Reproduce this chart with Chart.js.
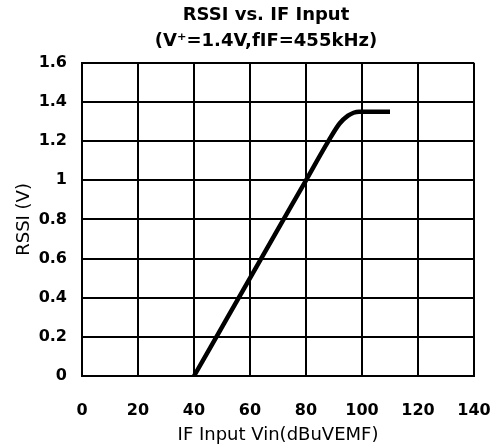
<!DOCTYPE html>
<html>
<head>
<meta charset="utf-8">
<script src="https://cdn.jsdelivr.net/npm/chart.js@4"></script>
<style>
  html, body { margin: 0; padding: 0; background: #fff; }
  canvas { display: block; }
</style>
</head>
<body>
<canvas id="rssiChart" width="499" height="448"></canvas>
<script>
// data
const vinValues = [40, 50, 60, 70, 80, 88, 92, 95, 97, 99, 102, 106, 110];
const rssiValues = [0, 0.25, 0.5, 0.75, 1.0, 1.2, 1.29, 1.33, 1.345, 1.35, 1.35, 1.35, 1.35];

const xTickValues = [0, 20, 40, 60, 80, 100, 120, 140];
const yTickValues = [0, 0.2, 0.4, 0.6, 0.8, 1, 1.2, 1.4, 1.6];
const yTickLabels = ['0', '0.2', '0.4', '0.6', '0.8', '1', '1.2', '1.4', '1.6'];

const fontFamily = '"DejaVu Sans", Verdana, sans-serif';
const tickFont = { family: fontFamily, size: 16, weight: 'bold' };
const labelFont = { family: fontFamily, size: 18 };

const ctx = document.getElementById('rssiChart').getContext('2d');
const rssiChart = new Chart(ctx, {
  type: 'line',
  data: {
    datasets: [{
      data: vinValues.map((v, i) => ({ x: v, y: rssiValues[i] })),
      borderColor: '#000',
      borderWidth: 4.5,
      pointRadius: 0,
      cubicInterpolationMode: 'monotone',
      fill: false
    }]
  },
  options: {
    responsive: false,
    animation: false,
    // left padding shifts the (full width) title to the right like the original
    layout: { padding: { left: 33, right: 0, top: 0, bottom: 0 } },
    plugins: {
      legend: { display: false },
      tooltip: { enabled: false },
      title: {
        display: true,
        text: ['RSSI vs. IF Input', '(V\u207A=1.4V,fIF=455kHz)'],
        color: '#000',
        font: { family: fontFamily, size: 18, weight: 'bold', lineHeight: 1.44 },
        padding: { top: 2, bottom: 9 }
      }
    },
    scales: {
      x: {
        type: 'linear',
        min: 0,
        max: 140,
        afterBuildTicks: scale => { scale.ticks = xTickValues.map(v => ({ value: v })); },
        afterFit: scale => {
          scale.height = 72;
          scale.paddingLeft = 0;
          scale.paddingRight = 25;
        },
        ticks: { color: '#000', font: tickFont, padding: 25, maxRotation: 0 },
        grid: { color: '#000', lineWidth: 2, drawTicks: false },
        border: { color: '#000', width: 2 },
        title: {
          display: true,
          text: 'IF Input Vin(dBuVEMF)',
          color: '#000',
          font: labelFont,
          padding: { top: 0, bottom: 2 }
        }
      },
      y: {
        min: 0,
        max: 1.6,
        afterBuildTicks: scale => { scale.ticks = yTickValues.map(v => ({ value: v })); },
        afterFit: scale => {
          scale.width = 49;
          scale.paddingTop = 0;
          scale.paddingBottom = 0;
        },
        ticks: {
          color: '#000',
          font: tickFont,
          padding: 15,
          callback: (value, index) => yTickLabels[index]
        },
        grid: { color: '#000', lineWidth: 2, drawTicks: false },
        border: { color: '#000', width: 2 },
        title: {
          display: true,
          text: 'RSSI (V)',
          color: '#000',
          font: labelFont,
          padding: { top: -19, bottom: 0 }
        }
      }
    }
  }
});
</script>
</body>
</html>
